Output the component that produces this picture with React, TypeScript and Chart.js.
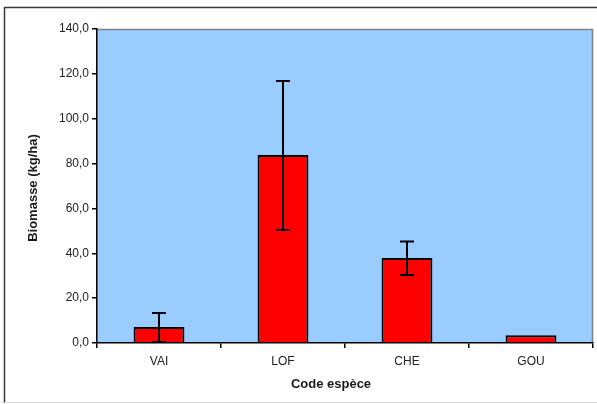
import React, { useEffect, useRef } from "react";
import { Chart, registerables } from "chart.js";

Chart.register(...registerables);

const categories = ["VAI", "LOF", "CHE", "GOU"];
const biomass = [7.1, 83.8, 37.9, 3.4];
const errorPlus = [6.3, 33.0, 7.4, 0];
const errorMinus = [6.6, 33.4, 7.6, 0];
const yTitle = "Biomasse (kg/ha)";
const xTitle = "Code espèce";

const FONT = "'Liberation Sans', Arial, sans-serif";

const framePlugin = {
  id: "frame",
  beforeDraw(chart: any) {
    const { ctx, chartArea } = chart;
    ctx.save();
    ctx.fillStyle = "#ffffff";
    ctx.fillRect(0, 0, chart.width, chart.height);
    // outer border
    ctx.strokeStyle = "#3a3a3a";
    ctx.lineWidth = 1.5;
    ctx.beginPath();
    ctx.moveTo(4.5, 403);
    ctx.lineTo(4.5, 7.5);
    ctx.lineTo(chart.width, 7.5);
    ctx.stroke();
    ctx.strokeStyle = "#dddddd";
    ctx.lineWidth = 1;
    ctx.beginPath();
    ctx.moveTo(4.5, 402.5);
    ctx.lineTo(chart.width, 402.5);
    ctx.stroke();
    // plot background
    ctx.fillStyle = "#99CCFF";
    ctx.fillRect(chartArea.left, chartArea.top, chartArea.right - chartArea.left, chartArea.bottom - chartArea.top);
    ctx.strokeStyle = "#808080";
    ctx.lineWidth = 1.5;
    ctx.beginPath();
    ctx.moveTo(chartArea.left, chartArea.top + 0.5);
    ctx.lineTo(chartArea.right - 0.5, chartArea.top + 0.5);
    ctx.lineTo(chartArea.right - 0.5, chartArea.bottom);
    ctx.stroke();
    ctx.restore();
  },
  afterDraw(chart: any) {
    const { ctx, chartArea } = chart;
    ctx.save();
    ctx.fillStyle = "#1a1a1a";
    ctx.font = `bold 13px ${FONT}`;
    ctx.textAlign = "center";
    ctx.textBaseline = "middle";
    ctx.fillText(xTitle, 331, 384);
    ctx.translate(33, (chartArea.top + chartArea.bottom) / 2 + 2);
    ctx.rotate(-Math.PI / 2);
    ctx.fillText(yTitle, 0, 0);
    ctx.restore();
  },
};

const errorBarPlugin = {
  id: "errorBars",
  afterDatasetsDraw(chart: any) {
    const { ctx } = chart;
    const meta = chart.getDatasetMeta(0);
    const y = chart.scales.y;
    ctx.save();
    ctx.strokeStyle = "#000000";
    ctx.lineWidth = 2;
    meta.data.forEach((bar: any, i: number) => {
      if (!errorPlus[i] && !errorMinus[i]) return;
      const x = bar.x;
      const top = y.getPixelForValue(biomass[i] + errorPlus[i]);
      const bot = y.getPixelForValue(biomass[i] - errorMinus[i]);
      const cap = 7;
      ctx.beginPath();
      ctx.moveTo(x, top);
      ctx.lineTo(x, bot);
      ctx.moveTo(x - cap, top);
      ctx.lineTo(x + cap, top);
      ctx.moveTo(x - cap, bot);
      ctx.lineTo(x + cap, bot);
      ctx.stroke();
    });
    ctx.restore();
  },
};

export default function App() {
  const ref = useRef<HTMLCanvasElement | null>(null);
  useEffect(() => {
    if (!ref.current) return;
    const chart = new Chart(ref.current, {
      type: "bar",
      data: {
        labels: categories,
        datasets: [
          {
            data: biomass,
            backgroundColor: "#FF0000",
            borderColor: "#000000",
            borderWidth: 2,
            barPercentage: 0.41,
            categoryPercentage: 1,
          },
        ],
      },
      options: {
        responsive: false,
        animation: false,
        layout: { padding: { left: 0, top: 29, right: 4, bottom: 0 } },
        plugins: { legend: { display: false }, tooltip: { enabled: false } },
        scales: {
          x: {
            grid: { drawOnChartArea: false, drawTicks: true, tickLength: 5, color: "#000000", lineWidth: 1.5, offset: true },
            border: { display: true, color: "#000000", width: 1.5 },
            ticks: { color: "#222222", font: { family: FONT, size: 12 }, padding: 6 },
            afterFit(scale: any) {
              scale.height = 61;
            },
          },
          y: {
            min: 0,
            max: 140,
            ticks: {
              stepSize: 20,
              color: "#222222",
              font: { family: FONT, size: 12 },
              padding: 3,
              callback: (v: any) => Number(v).toFixed(1).replace(".", ","),
            },
            grid: { drawOnChartArea: false, drawTicks: true, tickLength: 5, color: "#000000", lineWidth: 1.5 },
            border: { display: true, color: "#000000", width: 1.5 },
            afterFit(scale: any) {
              scale.width = 97;
            },
          },
        },
      },
      plugins: [framePlugin, errorBarPlugin],
    });
    return () => chart.destroy();
  }, []);
  return (
    <div style={{ position: "absolute", left: 0, top: 0, width: 597, height: 404 }}>
      <canvas ref={ref} width={597} height={404} style={{ display: "block" }} />
    </div>
  );
}
